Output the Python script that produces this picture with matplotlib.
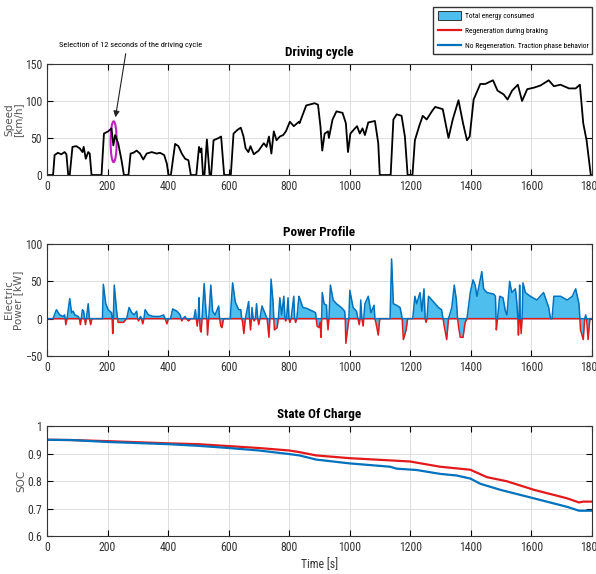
import numpy as np
import matplotlib
matplotlib.use("Agg")
import matplotlib.pyplot as plt
import matplotlib.patches as mpatches
from matplotlib.lines import Line2D
from matplotlib import font_manager

available = {f.name for f in font_manager.fontManager.ttflist}
narrow = next((n for n in ["Liberation Sans Narrow", "Roboto Condensed", "Arial Narrow"]
               if n in available), "Liberation Sans")
plt.rcParams['font.family'] = [narrow, 'DejaVu Sans']

# driving cycle: speed [km/h] vs time [s]
speed_t = [0, 20, 25, 36, 47, 58, 64, 70, 75, 84, 97, 108, 117, 121, 128, 136, 141, 147,
           180, 188, 202, 213, 219, 225, 235, 246, 254, 269, 276, 285, 296, 307, 318, 329,
           346, 362, 373, 387, 396, 401, 409, 423, 434, 445, 456, 467, 475, 493, 502, 506,
           510, 515, 520, 528, 537, 542, 550, 567, 575, 585, 607, 616, 629, 640, 649, 656,
           665, 672, 683, 699, 716, 725, 733, 741, 749, 758, 769, 780, 789, 802, 815, 832,
           834, 856, 884, 895, 903, 909, 917, 928, 931, 943, 956, 976, 987, 994, 1002, 1017,
           1024, 1033, 1042, 1050, 1061, 1083, 1094, 1099, 1135, 1144, 1155, 1171, 1182, 1191,
           1207, 1215, 1230, 1241, 1254, 1271, 1282, 1307, 1326, 1340, 1359, 1374, 1387, 1396,
           1409, 1431, 1447, 1473, 1488, 1508, 1521, 1536, 1555, 1569, 1586, 1608, 1630, 1657,
           1674, 1696, 1724, 1746, 1760, 1771, 1782, 1796, 1800]
speed_kmh = [0, 0, 27, 30, 28, 31, 28, 0, 0, 38, 39, 36, 31, 38, 22, 31, 29, 0,
             0, 56, 59, 63, 40, 54, 43, 20, 0, 0, 29, 30, 33, 29, 21, 29,
             31, 29, 30, 27, 15, 0, 0, 42, 39, 29, 22, 20, 0, 0, 38, 31,
             36, 0, 0, 48, 0, 0, 47, 50, 52, 0, 0, 56, 61, 64, 52, 36,
             31, 39, 28, 33, 43, 38, 52, 29, 59, 47, 52, 54, 59, 72, 66, 72,
             70, 94, 97, 95, 66, 33, 56, 59, 50, 75, 86, 84, 70, 31, 56, 63,
             66, 56, 63, 54, 71, 73, 43, 0, 0, 75, 82, 80, 52, 0,
             0, 47, 67, 80, 75, 86, 92, 89, 50, 75, 101, 70, 47, 52,
             102, 123, 123, 128, 114, 109, 102, 114, 122, 100, 116, 118, 121, 128,
             120, 122, 117, 117, 122, 70, 47, 0, 0]

# electric power [kW] vs time [s]
power_t = [0, 20, 31, 42, 53, 58, 60, 62, 66, 75, 81, 86, 92, 103, 107, 110, 113, 117, 121, 124,
           127, 130, 136, 140, 144, 148, 183, 186, 194, 202, 213, 215, 217, 219, 222, 230, 233, 235,
           252, 263, 271, 280, 288, 296, 299, 302, 305, 309, 312, 316, 320, 324, 335, 351, 373, 385,
           390, 396, 401, 408, 415, 429, 440, 443, 445, 449, 456, 460, 467, 475, 485, 490, 493, 496,
           499, 502, 504, 506, 509, 512, 519, 525, 528, 530, 534, 541, 547, 555, 567, 570, 574, 578,
           582, 585, 605, 613, 622, 633, 640, 643, 646, 650, 655, 666, 669, 672, 675, 677, 681, 684,
           688, 692, 696, 699, 703, 710, 722, 727, 733, 736, 740, 747, 749, 751, 760, 764, 769, 775,
           782, 786, 788, 791, 796, 799, 802, 806, 815, 818, 821, 825, 832, 834, 845, 856, 878, 887,
           889, 892, 898, 902, 905, 907, 909, 915, 923, 925, 928, 931, 936, 945, 956, 972, 983, 985,
           987, 994, 997, 1000, 1011, 1022, 1027, 1031, 1034, 1036, 1040, 1044, 1046, 1050, 1061,
           1070, 1080, 1083, 1086, 1094, 1099, 1133, 1138, 1144, 1154, 1166, 1171, 1173, 1177, 1186,
           1191, 1208, 1215, 1221, 1232, 1238, 1245, 1249, 1252, 1255, 1260, 1271, 1282, 1293, 1303,
           1308, 1312, 1320, 1326, 1337, 1345, 1352, 1356, 1359, 1365, 1374, 1381, 1387, 1398, 1407,
           1414, 1420, 1436, 1442, 1453, 1475, 1481, 1483, 1484, 1488, 1495, 1506, 1514, 1519, 1528,
           1535, 1547, 1552, 1555, 1557, 1559, 1561, 1563, 1566, 1569, 1572, 1580, 1596, 1618, 1640,
           1657, 1663, 1668, 1674, 1696, 1718, 1735, 1746, 1757, 1760, 1762, 1771, 1776, 1779, 1782,
           1787, 1793, 1800]
power_kw = [0, 0, 12, 5, 3, 5, 0, -8, 0, 27, 8, 10, 5, 3, 0, -8, 0, 12, 10, 0,
            -8, 0, 20, 0, -8, 0, 0, 46, 20, 12, 8, 0, -20, 0, 45, 10, 0, -5,
            -5, 0, 15, 8, 5, 10, 0, -3, 0, 3, 0, -7, 0, 12, 5, 3, 3, 5,
            0, -7, 0, 0, 13, 10, 5, 0, -3, 0, 3, 0, -3, 0, 0, 12, 0, -10,
            0, 28, 0, -15, -18, 0, 47, 10, 0, -22, 0, 45, 10, 5, 17, 0, -10, -12,
            -2, 0, 0, 48, 22, 12, 12, 0, -5, -20, 0, 23, 0, -15, 0, 15, 0, -3,
            0, 20, 0, -8, 0, 17, 5, 0, -25, 0, 53, 20, 0, -15, -12, 0, 28, 5,
            30, 0, -3, 0, 28, 0, -5, 0, 30, 0, -5, 0, 30, 28, 15, 14, 10, 8,
            0, -10, -12, -5, -25, 0, 35, 20, 18, 0, -15, 0, 45, 25, 20, 15, 10, 0,
            -33, -10, 0, 38, 15, 10, 0, -8, 0, 25, 0, -10, 0, 20, 30,
            8, 18, 0, -5, -22, 0, 0, 80, 20, 18, 15, 5, 0, -28, -15,
            0, 0, 30, 20, 35, 10, 40, 0, -5, 0, 30, 25, 20, 15, 12,
            0, -10, -28, 0, 15, 45, 25, 0, -10, -25, -25, -5, 0, 35, 52,
            45, 30, 63, 40, 35, 33, 30, 0, -15, 0, 30, 28, 10, 5, 50,
            35, 40, 20, 0, -22, 0, 45, 0, -20, 0, 48, 35, 30, 25, 35,
            15, 0, 0, 30, 30, 25, 30, 40, 20, 0, -15, -28, 0, 5, 0,
            -28, 0, 0]

# state of charge
soc_blue_t = [0, 80, 200, 300, 400, 500, 600, 700, 800, 834, 889, 1000, 1133, 1154, 1221,
              1298, 1353, 1398, 1431, 1497, 1608, 1718, 1757, 1800]
soc_blue = [0.950, 0.949, 0.942, 0.938, 0.934, 0.928, 0.920, 0.911, 0.898, 0.893, 0.878, 0.864,
            0.852, 0.845, 0.840, 0.826, 0.820, 0.809, 0.790, 0.768, 0.737, 0.706, 0.692, 0.692]
soc_red_t = [0, 80, 200, 300, 400, 500, 600, 700, 800, 834, 889, 1000, 1133, 1199, 1298,
             1398, 1453, 1519, 1608, 1718, 1757, 1771, 1800]
soc_red = [0.950, 0.949, 0.945, 0.941, 0.937, 0.934, 0.927, 0.920, 0.911, 0.905, 0.893, 0.883,
           0.875, 0.871, 0.852, 0.841, 0.814, 0.799, 0.768, 0.737, 0.722, 0.725, 0.725]

xticks = [0, 200, 400, 600, 800, 1000, 1200, 1400, 1600, 1800]

BLUE = "#0072BD"
LIGHT = "#4DBEEE"
RED = "#E31A1C"
LABEL_COLOR = "#555555"

fig = plt.figure(figsize=(5.96, 5.74), dpi=100)
ax1 = fig.add_axes([0.0789, 0.6951, 0.9144, 0.1934])
ax2 = fig.add_axes([0.0789, 0.3798, 0.9144, 0.1951])
ax3 = fig.add_axes([0.0789, 0.0662, 0.9144, 0.1916])

for ax in (ax1, ax2, ax3):
    ax.set_xlim(0, 1800)
    ax.set_xticks(xticks)
    ax.grid(True, color="#dddddd", linewidth=0.7)
    ax.set_axisbelow(True)
    ax.tick_params(direction="in", top=True, right=True, length=4, labelsize=8.5,
                   labelcolor="#333333", pad=3.5)
    for s in ax.spines.values():
        s.set_linewidth(0.8)
        s.set_color("#333333")

ylabel_kw = dict(fontsize=7.5, color=LABEL_COLOR, family="DejaVu Sans", labelpad=1, linespacing=0.95)

# Driving cycle
ax1.plot(speed_t, speed_kmh, color="black", linewidth=1.3)
ax1.set_ylim(0, 150)
ax1.set_yticks([0, 50, 100, 150])
ax1.set_title("Driving cycle", fontsize=9.5, fontweight="bold", pad=6)
ax1.set_ylabel("Speed\n[km/h]", **ylabel_kw)
ax1.add_patch(mpatches.Ellipse((220, 45), 20, 55, fill=False, edgecolor="#C21FC2", linewidth=1.5))
ax1.annotate("Selection of 12 seconds of the driving cycle", xy=(226, 78), xycoords="data",
             xytext=(277, 176), textcoords="data", fontsize=6, ha="center", va="center",
             annotation_clip=False,
             arrowprops=dict(arrowstyle="-|>", color="#222222", linewidth=0.8, mutation_scale=9,
                             relpos=(0.47, 0.0), shrinkA=2, shrinkB=0))

# Power profile
p = np.array(power_kw, dtype=float)
ax2.fill_between(power_t, p, 0, color=LIGHT, linewidth=0)
ax2.plot(power_t, np.minimum(p, 0), color=RED, linewidth=1.1)
ax2.plot(power_t, np.maximum(p, 0), color=BLUE, linewidth=1.1)
ax2.set_ylim(-50, 100)
ax2.set_yticks([-50, 0, 50, 100])
ax2.set_title("Power Profile", fontsize=9.5, fontweight="bold", pad=6)
ax2.set_ylabel("Electric\nPower [kW]", **ylabel_kw)

# State of charge
ax3.plot(soc_red_t, soc_red, color=RED, linewidth=1.6)
ax3.plot(soc_blue_t, soc_blue, color=BLUE, linewidth=1.6)
ax3.set_ylim(0.6, 1.0)
ax3.set_yticks([0.6, 0.7, 0.8, 0.9, 1.0])
ax3.set_yticklabels(["0.6", "0.7", "0.8", "0.9", "1"])
ax3.set_title("State Of Charge", fontsize=9.5, fontweight="bold", pad=6)
ax3.set_ylabel("SOC", **ylabel_kw)
ax3.set_xlabel("Time [s]", fontsize=8.5, color="#333333", labelpad=3)

handles = [
    mpatches.Patch(facecolor=LIGHT, edgecolor="#1a1a1a", linewidth=0.6, label="Total energy consumed"),
    Line2D([], [], color=RED, linewidth=1.6, label="Regeneration during braking"),
    Line2D([], [], color=BLUE, linewidth=1.6, label="No Regeneration. Traction phase behavior"),
]
fig.legend(handles=handles, loc="upper right", bbox_to_anchor=(0.994, 0.988), borderaxespad=0,
           fontsize=5.4, frameon=True, fancybox=False, edgecolor="#333333", framealpha=1,
           handlelength=3.1, handleheight=1.4, handletextpad=0.5, borderpad=0.55,
           labelspacing=0.85)

fig.savefig("out.png", dpi=100)
